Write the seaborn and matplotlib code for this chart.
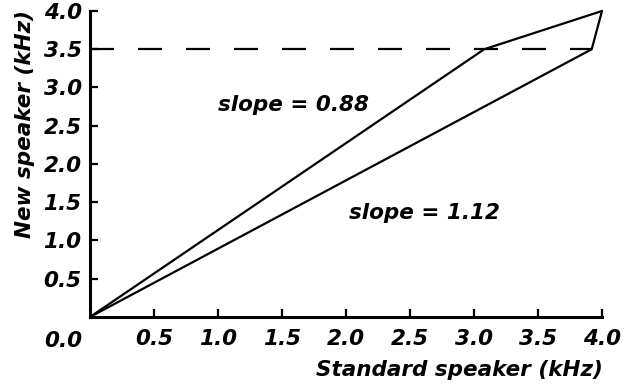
import matplotlib
matplotlib.use("Agg")
import matplotlib.pyplot as plt
import matplotlib.transforms as mtransforms
import seaborn as sns
import pandas as pd

# Data
upper_x = [0.0, 3.08, 4.0]
upper_y = [0.0, 3.5, 4.0]
lower_x = [0.0, 3.92, 4.0]
lower_y = [0.0, 3.5, 4.0]
ref_level = 3.5
xticks = [0.5, 1.0, 1.5, 2.0, 2.5, 3.0, 3.5, 4.0]
yticks = [0.5, 1.0, 1.5, 2.0, 2.5, 3.0, 3.5, 4.0]
label_upper = "slope = 0.88"
label_lower = "slope = 1.12"
upper_label_pos = (1.59, 2.77)
lower_label_pos = (2.61, 1.36)

sns.set_theme(style="ticks")
plt.rcParams['font.family'] = ['DejaVu Sans']
plt.rcParams['font.weight'] = 'bold'
plt.rcParams['font.style'] = 'italic'
plt.rcParams['text.color'] = 'black'
plt.rcParams['axes.labelcolor'] = 'black'
plt.rcParams['xtick.color'] = 'black'
plt.rcParams['ytick.color'] = 'black'

FS = 15.5
TFS = 15.5

fig = plt.figure(figsize=(6.24, 3.87), dpi=100)
ax = fig.add_axes([0.1442, 0.1809, 0.8205, 0.7907])

df_u = pd.DataFrame({"x": upper_x, "y": upper_y})
df_l = pd.DataFrame({"x": lower_x, "y": lower_y})
sns.lineplot(data=df_u, x="x", y="y", sort=False, color="black", lw=1.6, ax=ax, estimator=None)
sns.lineplot(data=df_l, x="x", y="y", sort=False, color="black", lw=1.6, ax=ax, estimator=None)
ax.plot([0, 3.92], [ref_level, ref_level], color="black", lw=1.6, dashes=(10.8, 10.8))

ax.set_xlim(0, 4.0)
ax.set_ylim(0, 4.0)
ax.set_xticks(xticks)
ax.set_yticks(yticks)
ax.set_xticklabels([f"{v:.1f}" for v in xticks])
ax.set_yticklabels([f"{v:.1f}" for v in yticks])
for s in ["top", "right"]:
    ax.spines[s].set_visible(False)
for s in ["left", "bottom"]:
    ax.spines[s].set_linewidth(2.2)
    ax.spines[s].set_color("black")
ax.tick_params(axis="both", direction="in", length=6, width=1.6, colors="black",
               labelcolor="black", labelsize=TFS)
ax.tick_params(axis="x", pad=9)
ax.tick_params(axis="y", pad=6)
for lab in ax.get_xticklabels() + ax.get_yticklabels():
    lab.set_fontweight("bold")
    lab.set_fontstyle("italic")

off = mtransforms.offset_copy(ax.transData, fig=fig, x=-27, y=-24, units="dots")
ax.text(0, 0, "0.0", transform=off, ha="center", va="center", fontsize=TFS,
        fontweight="bold", fontstyle="italic", color="black")

ax.set_xlabel("Standard speaker (kHz)", loc="right", fontsize=FS, fontweight="bold",
              fontstyle="italic", color="black")
ax.set_ylabel("New speaker (kHz)", loc="top", fontsize=FS, fontweight="bold",
              fontstyle="italic", color="black")
ax.xaxis.set_label_coords(1.002, -0.142)
ax.yaxis.set_label_coords(-0.107, 1.003)

ax.text(*upper_label_pos, label_upper, ha="center", va="center", fontsize=FS,
        fontweight="bold", fontstyle="italic", color="black")
ax.text(*lower_label_pos, label_lower, ha="center", va="center", fontsize=FS,
        fontweight="bold", fontstyle="italic", color="black")

for l in ax.lines:
    l.set_clip_on(False)

fig.savefig("out.png", dpi=100)
